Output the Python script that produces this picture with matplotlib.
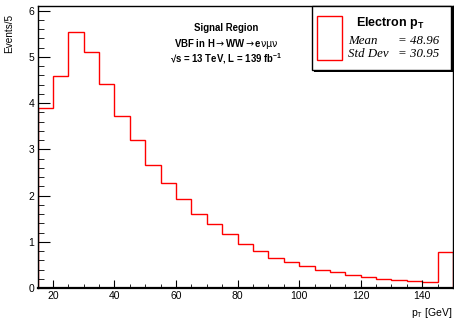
#!/usr/bin/env python
import numpy as np
import matplotlib
matplotlib.use('Agg')
import matplotlib.pyplot as plt
from matplotlib.patches import Rectangle
from matplotlib.ticker import MultipleLocator

# electron pT histogram, 5 GeV bins from 15 to 150
bin_edges = np.arange(15, 151, 5)
events = [3.90, 4.59, 5.54, 5.11, 4.41, 3.73, 3.20, 2.66, 2.27, 1.93,
          1.60, 1.38, 1.16, 0.95, 0.80, 0.64, 0.57, 0.48, 0.39, 0.35,
          0.28, 0.245, 0.195, 0.165, 0.15, 0.13, 0.77]
mean_val = 48.96
std_val = 30.95

plt.rcParams['font.family'] = ['Liberation Sans', 'DejaVu Sans']
plt.rcParams['mathtext.fontset'] = 'custom'
plt.rcParams['mathtext.rm'] = 'Liberation Sans'
plt.rcParams['mathtext.it'] = 'Liberation Sans:italic'
plt.rcParams['mathtext.bf'] = 'Liberation Sans:bold'
plt.rcParams['mathtext.sf'] = 'DejaVu Sans'

fig = plt.figure(figsize=(4.54, 3.22), dpi=100)
ax = fig.add_axes([37.5/454, 34/322, 415.5/454, 282/322])

ax.stairs(events, bin_edges, color='red', lw=1.0)

ax.set_xlim(15, 150)
ax.set_ylim(0, 6.1)
ax.xaxis.set_major_locator(MultipleLocator(20))
ax.xaxis.set_minor_locator(MultipleLocator(5))
ax.yaxis.set_major_locator(MultipleLocator(1))
ax.yaxis.set_minor_locator(MultipleLocator(0.2))
ax.tick_params(axis='both', which='both', direction='in', labelsize=7.5)
ax.tick_params(axis='x', which='major', length=6, pad=2.5)
ax.tick_params(axis='x', which='minor', length=3)
ax.tick_params(axis='y', which='major', length=8.5, pad=2.5)
ax.tick_params(axis='y', which='minor', length=4.3)
for s in ax.spines.values():
    s.set_linewidth(1.0)
ax.spines['bottom'].set_linewidth(1.6)

ax.text(-0.069, 0.972, 'Events/5', transform=ax.transAxes, rotation=90,
        ha='center', va='top', fontsize=7.2)
ax.text(0.9976, -0.089, r'p$_\mathrm{T}$ [GeV]', transform=ax.transAxes,
        ha='right', va='center', fontsize=7.5)

# labels
ax.text(0.454, 0.922, 'Signal Region', transform=ax.transAxes,
        ha='center', va='center', fontsize=6.9, fontweight='bold')
ax.text(0.454, 0.866, r'VBF in H$\mathsf{\rightarrow}$WW$\mathsf{\rightarrow}$e$\mathsf{\nu\mu\nu}$',
        transform=ax.transAxes, ha='center', va='center', fontsize=6.9, fontweight='bold')
ax.text(0.454, 0.814, '\u221as = 13 TeV, L = 139 fb$^{\\mathbf{-1}}$', transform=ax.transAxes,
        ha='center', va='center', fontsize=6.9, fontweight='bold')

# stats box
def fx(px):
    return px / 454
def fy(py):
    return 1 - py / 322

fig.patches.append(Rectangle((fx(314), fy(72)), fx(139), 66/322, transform=fig.transFigure,
                             facecolor='black', edgecolor='none', zorder=4))
fig.patches.append(Rectangle((fx(312), fy(70)), fx(139), 64/322, transform=fig.transFigure,
                             facecolor='white', edgecolor='black', lw=1.0, zorder=5))
fig.patches.append(Rectangle((fx(317), fy(60)), fx(25), 44/322, transform=fig.transFigure,
                             facecolor='none', edgecolor='red', lw=1.0, zorder=6))
fig.text(fx(390), fy(23), r'Electron $\mathbf{p}_\mathbf{T}$', ha='center', va='center',
         fontsize=9, fontweight='bold', zorder=7)
fig.text(fx(348), fy(41), 'Mean', ha='left', va='center', fontsize=9.3,
         family='Liberation Serif', style='italic', zorder=7)
fig.text(fx(439), fy(41), '= %.2f' % mean_val, ha='right', va='center', fontsize=9.3,
         family='Liberation Serif', style='italic', zorder=7)
fig.text(fx(348), fy(54), 'Std Dev', ha='left', va='center', fontsize=9.3,
         family='Liberation Serif', style='italic', zorder=7)
fig.text(fx(439), fy(54), '= %.2f' % std_val, ha='right', va='center', fontsize=9.3,
         family='Liberation Serif', style='italic', zorder=7)

plt.savefig('out.png', dpi=100)
